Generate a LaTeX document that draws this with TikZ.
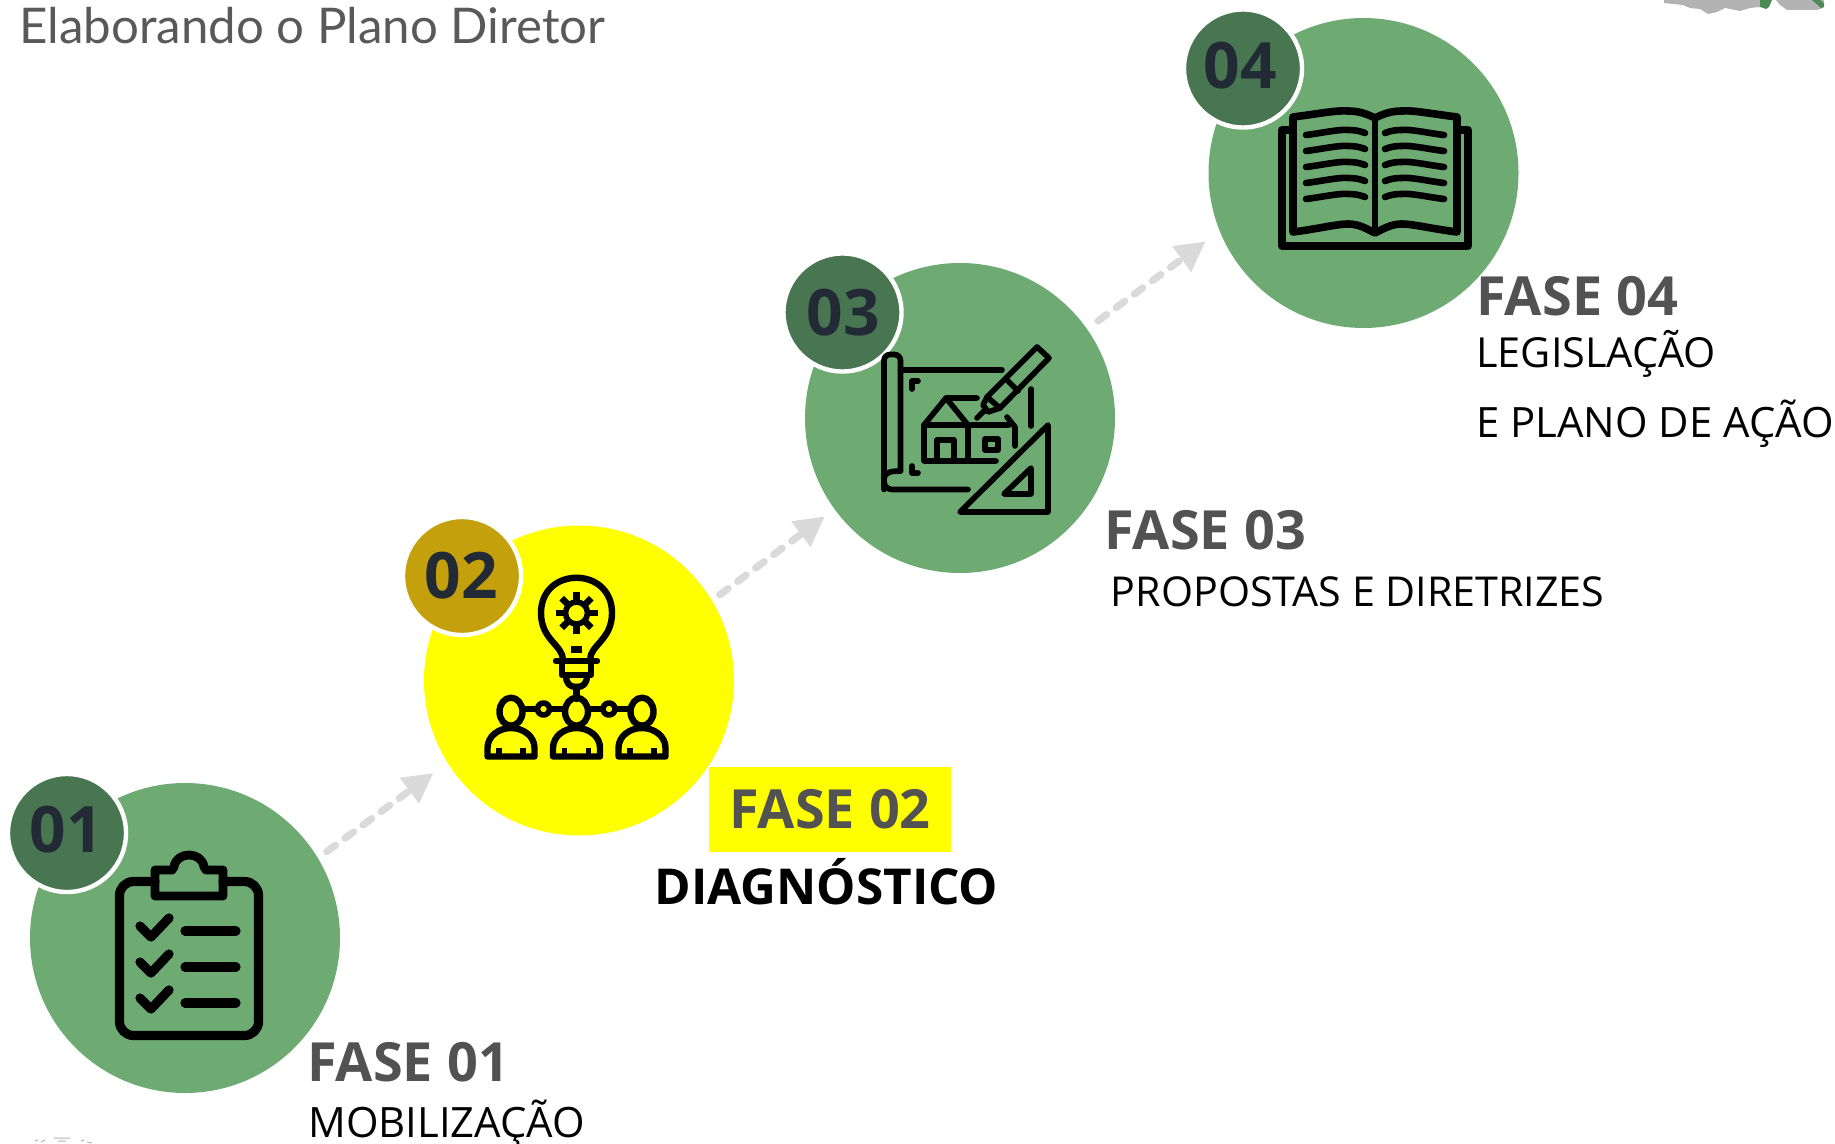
\documentclass[tikz,border=0pt]{standalone}
\usepackage{fontspec}
\setmainfont{Open Sans}
\newfontfamily\titlefont{Lato}
\usepackage{xcolor}
\usetikzlibrary{arrows.meta, positioning}
\definecolor{phasegreen}{HTML}{6EAB73}
\definecolor{phaseyellow}{RGB}{255,255,0}
\definecolor{badgegreen}{HTML}{487650}
\definecolor{badgegold}{HTML}{C4A00C}
\definecolor{badgeink}{HTML}{222A35}
\definecolor{faseink}{HTML}{525252}
\definecolor{titleink}{HTML}{595959}
\definecolor{flowgray}{HTML}{DADADA}
\definecolor{scrapgray}{HTML}{B3B3B3}
\definecolor{scrapgreen}{HTML}{4E8A55}
\tikzset{
  phase/.style={circle, fill=#1, minimum size=155pt, inner sep=0pt},
  badge/.style={circle, fill=#1, draw=white, line width=2.2pt, minimum size=59pt, inner sep=0pt},
  badgenum/.style={inner sep=0pt, text=badgeink, font=\bfseries\fontsize{32}{36}\selectfont},
  fasehead/.style={anchor=base west, inner sep=0pt, text=faseink, font=\bfseries\fontsize{27}{30}\selectfont},
  fasetext/.style={anchor=base west, inner sep=0pt, text=black, font=\fontsize{20.9}{24}\selectfont},
  flow/.style={draw=flowgray, line width=3.6pt, line cap=round, dash pattern=on 5.3pt off 5.95pt,
    -{Triangle[length=15pt,width=15pt,fill=flowgray]}},
  icon/.style={draw=black, line width=#1, line cap=round, line join=round},
}
\begin{document}
\begin{tikzpicture}[x=0.5pt, y=-0.5pt]
\useasboundingbox (0,0) rectangle (1835,1144);
%
\fill[scrapgray] (1664,0) -- (1664,3) -- (1673,4) -- (1683,5) -- (1690,8) -- (1700,9) -- (1708,14) -- (1717,12) -- (1725,8) -- (1740,11) -- (1750,8) -- (1760,7) -- (1760,0) -- cycle;
\fill[scrapgray] (1776,0) -- (1780,5) -- (1787,10) -- (1802,10) -- (1817,10) -- (1823,8) -- (1824,0) -- cycle;
\fill[scrapgreen] (1760,0) -- (1760,7) -- (1766,9) -- (1769,7) -- (1772,0) -- cycle;
\fill[scrapgreen] (1812,0) -- (1821,8) -- (1824,7) -- (1824,3) -- (1820,0) -- cycle;
\draw[gray!60, line width=0.5pt] (35,1141) -- (38,1140) (41,1142) -- (45,1140) (54,1138) -- (70,1138) (58,1141) -- (66,1141) (81,1141) -- (84,1140) (87,1142) -- (92,1143);
%
\node[anchor=base west, inner sep=0pt, text=titleink, font=\titlefont\fontsize{24.6}{28}\selectfont] (title) at (19,44) {Elaborando o Plano Diretor};
%
\node[phase=phasegreen] (c1) at (185,938) {};
\node[phase=phaseyellow] (c2) at (579,680.5) {};
\node[phase=phasegreen] (c3) at (960,418) {};
\node[phase=phasegreen] (c4) at (1363.5,173) {};
%
\draw[flow, shorten <=5.35pt, shorten >=8.5pt] (c1.31.7) -- (c2.212.7);
\draw[flow, shorten <=4.65pt, shorten >=5.8pt] (c2.31.6) -- (c3.216.5);
\draw[flow, shorten <=6.7pt, shorten >=8.5pt] (c3.35.6) -- (c4.202);
%
\node[badge=badgegreen] (b1) at (67,833) {};
\node[badge=badgegold] (b2) at (462,576) {};
\node[badge=badgegreen] (b3) at (842.5,312.5) {};
\node[badge=badgegreen] (b4) at (1243,68.5) {};
\node[badgenum] (n1) at (66.5,830) {01};
\node[badgenum] (n2) at (461,575.5) {02};
\node[badgenum] (n3) at (843,312.5) {03};
\node[badgenum] (n4) at (1240,65.5) {04};
%
\node[fasehead] (f1) at (307,1081) {FASE 01};
\node[fasehead] (f3) at (1104,549) {FASE 03};
\node[fasehead] (f4) at (1476,316) {FASE 04};
\node[fill=phaseyellow, inner sep=0pt, minimum width=121pt, minimum height=42.5pt, text=faseink, font=\bfseries\fontsize{27}{30}\selectfont] (f2) at (830,809.5) {FASE 02};
\node[anchor=base west, inner sep=0pt, font=\bfseries\fontsize{24.75}{28}\selectfont] (t2) at (654,904) {DIAGNÓSTICO};
\node[fasetext] (t1) at (308,1137) {MOBILIZAÇÃO};
\node[fasetext, font=\fontsize{20.6}{24}\selectfont] (t3) at (1110.5,606) {PROPOSTAS E DIRETRIZES};
\node[fasetext, font=\fontsize{20.7}{24}\selectfont] (t4) at (1476,368) {LEGISLAÇÃO};
\node[fasetext] (t5) at (1476,437.5) {E PLANO DE AÇÃO};
%
% clipboard
\draw[icon=4.6pt, rounded corners=7pt] (155,881.5) -- (119.5,881.5) -- (119.5,1035.5) -- (258.5,1035.5) -- (258.5,881.5) -- (223,881.5);
\draw[icon=4.4pt] (155,896) -- (155,870) -- (172,870) -- (174,867) .. controls (176,851) and (202,851) .. (204,867) -- (206,870) -- (223,870) -- (223,896) -- cycle;
\foreach \dy in {0,36,72} {
  \draw[icon=4.6pt] (140,926+\dy) -- (151,937+\dy) -- (169,918+\dy);
  \draw[icon=4.6pt] (185,931+\dy) -- (236,931+\dy);
}
%
% bulb and people
\draw[icon=3.2pt] (563,660) .. controls (563,645) and (541,640) .. (541,613) .. controls (541,566) and (612,566) .. (612,613) .. controls (612,640) and (590,645) .. (590,660);
\draw[icon=3.2pt] (556,661) -- (597,661) (562,661) -- (562,675) -- (591,675) -- (591,661);
\draw[icon=3.2pt] (566,675) .. controls (566,684) and (570,687) .. (576.5,687) .. controls (583,687) and (587,684) .. (587,675);
\draw[icon=3.2pt] (576.5,687) -- (576.5,699);
\fill (571,646) rectangle (582,653);
\begin{scope}[shift={(576.5,613)}]
\draw[icon=2.8pt] (0,0) circle (11);
\foreach \a in {0,45,...,315}
  \draw[draw=black, line width=3.2pt] (\a:12) -- (\a:21);
\end{scope}
\foreach \px in {511,576.5,642} {
  \draw[icon=3.2pt] (\px,711.7) ellipse (11.5 and 14);
  \draw[icon=3.2pt] (\px-23.5,756.5) -- (\px-23.5,748) .. controls (\px-23.5,736) and (\px-12,728) .. (\px,728) .. controls (\px+12,728) and (\px+23.5,736) .. (\px+23.5,748) -- (\px+23.5,756.5) -- cycle;
  \draw[draw=black, line width=2.8pt] (\px-12,748) -- (\px-12,756) (\px+12,748) -- (\px+12,756);
}
\draw[icon=3.2pt] (524,709) -- (563,709) (589,709) -- (629,709);
\draw[icon=2.8pt, fill=phaseyellow] (543.5,709) circle (6);
\draw[icon=2.8pt, fill=phaseyellow] (609,709) circle (6);
%
% blueprint
\draw[icon=2.8pt, rounded corners=3pt] (900.5,471) -- (900.5,354.5) -- (884,354.5) -- (884,489.5);
\draw[icon=2.8pt] (900.5,471) .. controls (891,471) and (884,472) .. (884,480);
\draw[icon=2.8pt, rounded corners=4pt] (884,478) -- (884,489.5) -- (968,489.5);
\draw[icon=2.8pt] (900.5,370) -- (1002,370);
\draw[icon=2.8pt] (1031,389) -- (1031,426);
\draw[icon=2.8pt] (918,381) -- (912,381) -- (912,389);
\draw[icon=2.8pt] (912,466) -- (912,473) -- (918,473);
\draw[icon=2.8pt] (977,398) -- (946,398) -- (924,425) -- (924,461) -- (996,461);
\draw[icon=2.8pt] (946,398) -- (968,425) -- (968,461);
\draw[icon=2.8pt] (924,425) -- (1009,425) (1007,417) -- (1015,427) -- (1015,446);
\draw[icon=2.8pt] (937,461) -- (937,440) -- (954,440) -- (954,461);
\draw[icon=2.8pt] (985,439) rectangle (998,450);
\draw[icon=2.8pt] (987,397) -- (1037,347) -- (1049,358) -- (1000,408) -- cycle;
\draw[icon=2.8pt] (1006,379) -- (1018,391);
\draw[icon=2.8pt] (987,397) -- (983,405) -- (988,412) -- (1000,408);
\draw[icon=2.8pt] (977,418) -- (986,409);
\draw[icon=2.8pt] (1048,425) -- (1048,512) -- (960,512) -- cycle;
\draw[icon=2.8pt] (1031,468) -- (1031,494) -- (1004,494) -- cycle;
%
% book
\begin{scope}[shift={(-3,1)}]
\draw[icon=3.8pt] (1295,129) -- (1285,129) -- (1285,245) -- (1471,245) -- (1471,129) -- (1461,129);
\draw[icon=3.8pt] (1296,231) -- (1296,116) .. controls (1320,113) and (1340,109) .. (1351,110) .. controls (1362,110) and (1370,113) .. (1378,117) .. controls (1386,113) and (1394,110) .. (1405,110) .. controls (1416,109) and (1436,113) .. (1460,116) -- (1460,231) .. controls (1436,228) and (1416,223) .. (1405,223) .. controls (1394,223) and (1386,228) .. (1378,232) .. controls (1370,228) and (1362,223) .. (1351,223) .. controls (1340,223) and (1320,228) .. (1296,231);
\draw[icon=2.9pt] (1378,117) -- (1378,232);
\foreach \dy in {0,16,32,48,64} {
  \draw[icon=3.3pt] (1309,134+\dy) .. controls (1325,132+\dy) and (1343,128+\dy) .. (1351,129+\dy) .. controls (1358,129+\dy) and (1363,130+\dy) .. (1368,132+\dy);
  \draw[icon=3.3pt] (1388,132+\dy) .. controls (1393,130+\dy) and (1398,129+\dy) .. (1405,129+\dy) .. controls (1413,128+\dy) and (1431,132+\dy) .. (1447,134+\dy);
}
\end{scope}
%
\end{tikzpicture}
\end{document}
